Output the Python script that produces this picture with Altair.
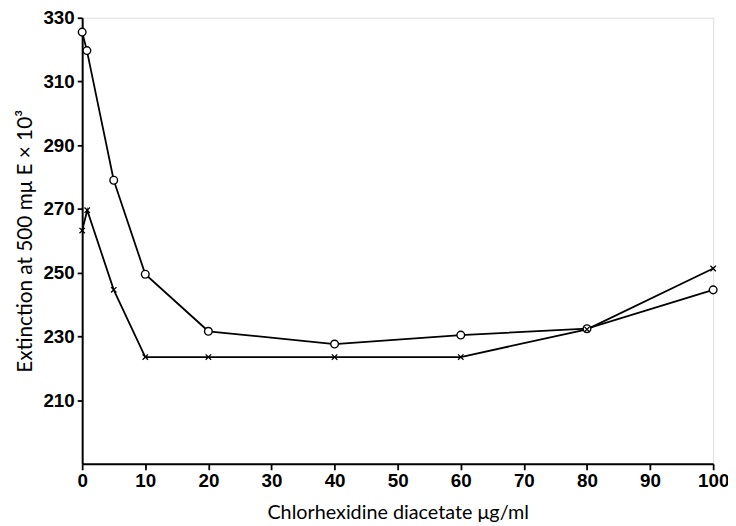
import altair as alt
import pandas as pd

# Circles series (o)
circ_x = [0, 0.75, 5, 10, 20, 40, 60, 80, 100]
circ_y = [325.5, 319.7, 279.0, 249.5, 231.6, 227.6, 230.4, 232.4, 244.6]
# Crosses series (x)
cross_x = [0, 0.8, 5, 10, 20, 40, 60, 80, 100]
cross_y = [263.2, 269.6, 244.6, 223.5, 223.5, 223.5, 223.5, 232.2, 251.3]

x_ticks = [0, 10, 20, 30, 40, 50, 60, 70, 80, 90, 100]
y_ticks = [210, 230, 250, 270, 290, 310, 330]

df = pd.DataFrame(
    {"conc": circ_x + cross_x,
     "ext": circ_y + cross_y,
     "series": ["o"] * len(circ_x) + ["x"] * len(cross_x)}
)

W, H = 638, 451
xs = alt.Scale(domain=[0, 100], nice=False, zero=False)
ys = alt.Scale(domain=[190, 330], nice=False, zero=False)

tick_font = "Liberation Sans, Arial, sans-serif"
title_font = "Lato, Open Sans, sans-serif"

x_main = alt.X("conc:Q", scale=xs, axis=alt.Axis(
    values=x_ticks, ticks=True, tickSize=6, tickWidth=1.8, tickColor="black",
    grid=False, domain=True, domainColor="black",
    domainWidth=2, labelFont=tick_font, labelFontSize=19, labelFontWeight="bold",
    labelColor="black", labelPadding=2, labelFlush=False, labelOverlap=False,
    title="Chlorhexidine diacetate μg/ml", titleFont=title_font, titleFontSize=20,
    titleFontWeight="normal", titleColor="black", titlePadding=12))
y_main = alt.Y("ext:Q", scale=ys, axis=alt.Axis(
    values=y_ticks, ticks=True, tickSize=5, tickWidth=1.8, tickColor="black",
    grid=False, domain=True, domainColor="black",
    domainWidth=2, labelFont=tick_font, labelFontSize=19, labelFontWeight="bold",
    labelColor="black", labelPadding=3, labelFlush=False, labelOverlap=False,
    title="Extinction at 500 mμ E × 10³", titleFont=title_font, titleFontSize=21,
    titleFontWeight="normal", titleColor="black", titlePadding=8))

lines = alt.Chart(df).mark_line(color="black", strokeWidth=1.8).encode(
    x=x_main, y=y_main, detail="series:N")

circles = alt.Chart(df[df.series == "o"]).mark_point(
    shape="circle", filled=True, fill="white", stroke="black", strokeWidth=1.4,
    size=60, opacity=1).encode(x="conc:Q", y="ext:Q")

crosses = alt.Chart(df[df.series == "x"]).mark_point(
    shape="M-1,-1L1,1M-1,1L1,-1", filled=False, stroke="black", strokeWidth=1.3,
    size=30, opacity=1).encode(x="conc:Q", y="ext:Q")

chart = alt.layer(lines, circles, crosses).properties(
    width=W, height=H,
    autosize=alt.AutoSizeParams(type="none"),
    padding={"left": 75, "top": 7, "right": 15, "bottom": 60},
).configure_view(stroke=None).configure(background="white")

chart.save("out.html", embed_options={"renderer": "svg", "actions": False})
